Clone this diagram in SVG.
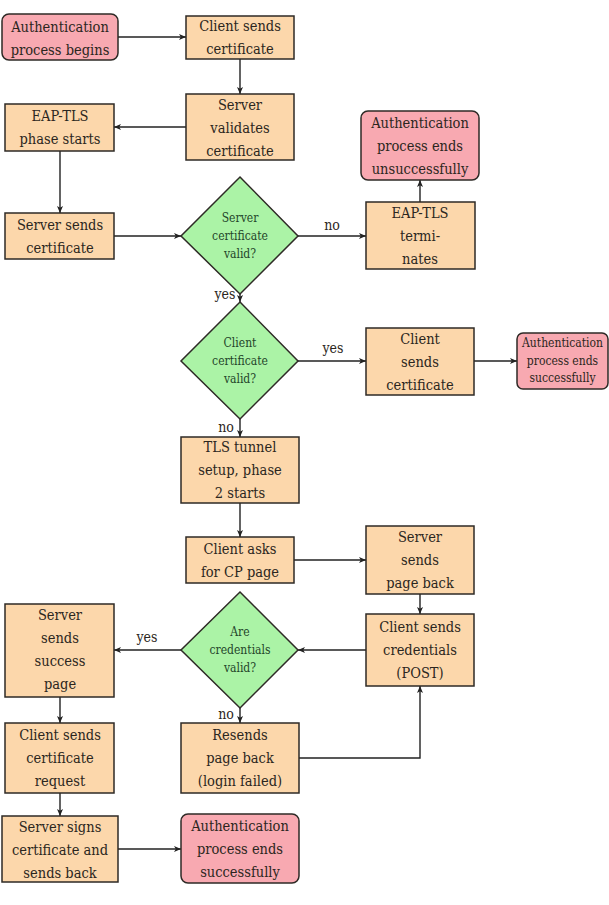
<svg xmlns="http://www.w3.org/2000/svg" width="609" height="905" viewBox="0 0 609 905">
  <style>
    .proc { fill: #fcd7ab; stroke: #2e2a26; stroke-width: 1.5; }
    .term { fill: #f8a9b1; stroke: #2e2a26; stroke-width: 1.5; }
    .dec  { fill: #abf3a6; stroke: #2e2a26; stroke-width: 1.5; }
    text  { font-family: 'DejaVu Serif Condensed', 'DejaVu Serif', serif; text-anchor: middle; }
    .t    { font-size: 14.5px; fill: #2b2620; }
    .ts   { font-size: 12px; fill: #2b2620; }
    .td   { font-size: 12px; fill: #24452a; }
    .lbl  { font-size: 14px; fill: #2b2620; }
    .edge { fill: none; stroke: #222; stroke-width: 1.4; marker-end: url(#arr); }
  </style>
  <defs>
    <marker id="arr" markerUnits="userSpaceOnUse" markerWidth="8" markerHeight="8" refX="7" refY="4" orient="auto">
      <path d="M0,1 L7,4 L0,7 L1.8,4 Z" fill="#222"/>
    </marker>
  </defs>
  <rect width="609" height="905" fill="#ffffff"/>

  <!-- connectors -->
  <g id="connectors">
    <path class="edge" d="M118,37 H186"/>
    <path class="edge" d="M240,59 V94"/>
    <path class="edge" d="M186,127 H114"/>
    <path class="edge" d="M60,151 V213"/>
    <path class="edge" d="M114,236 H181"/>
    <path class="edge" d="M298,236 H366"/>
    <path class="edge" d="M420,202 V180"/>
    <path class="edge" d="M240,294 V302"/>
    <path class="edge" d="M298,361 H366"/>
    <path class="edge" d="M474,361 H517"/>
    <path class="edge" d="M240,419 V437"/>
    <path class="edge" d="M240,503 V537"/>
    <path class="edge" d="M294,560 H366"/>
    <path class="edge" d="M420,594 V614"/>
    <path class="edge" d="M366,650 H298"/>
    <path class="edge" d="M181,650 H114"/>
    <path class="edge" d="M240,708 V723"/>
    <path class="edge" d="M299,758 H420 V686"/>
    <path class="edge" d="M60,697 V723"/>
    <path class="edge" d="M60,793 V816"/>
    <path class="edge" d="M118,849 H181"/>
    <text class="lbl" x="332" y="230">no</text>
    <text class="lbl" x="225" y="299">yes</text>
    <text class="lbl" x="333" y="353">yes</text>
    <text class="lbl" x="226" y="432">no</text>
    <text class="lbl" x="147" y="642">yes</text>
    <text class="lbl" x="226" y="719">no</text>
  </g>

  <g id="auth-begins">
    <rect class="term" x="2" y="14" width="116" height="46" rx="7"/>
    <text class="t" x="60" y="32">Authentication</text>
    <text class="t" x="60" y="55">process begins</text>
  </g>

  <g id="client-sends-cert">
    <rect class="proc" x="186" y="16" width="108" height="43"/>
    <text class="t" x="240" y="31">Client sends</text>
    <text class="t" x="240" y="54">certificate</text>
  </g>

  <g id="server-validates">
    <rect class="proc" x="186" y="94" width="108" height="66"/>
    <text class="t" x="240" y="110">Server</text>
    <text class="t" x="240" y="133">validates</text>
    <text class="t" x="240" y="156">certificate</text>
  </g>

  <g id="eap-tls-starts">
    <rect class="proc" x="5" y="104" width="109" height="47"/>
    <text class="t" x="60" y="121">EAP-TLS</text>
    <text class="t" x="60" y="144">phase starts</text>
  </g>

  <g id="server-sends-cert">
    <rect class="proc" x="5" y="213" width="109" height="46"/>
    <text class="t" x="60" y="230">Server sends</text>
    <text class="t" x="60" y="253">certificate</text>
  </g>

  <g id="server-cert-valid">
    <polygon class="dec" points="240,177 298,236 240,294 181,236"/>
    <text class="td" x="240" y="222">Server</text>
    <text class="td" x="240" y="240">certificate</text>
    <text class="td" x="240" y="258">valid?</text>
  </g>

  <g id="eap-tls-terminates">
    <rect class="proc" x="366" y="202" width="109" height="67"/>
    <text class="t" x="420" y="218">EAP-TLS</text>
    <text class="t" x="420" y="241">termi-</text>
    <text class="t" x="420" y="264">nates</text>
  </g>

  <g id="auth-ends-fail">
    <rect class="term" x="361" y="111" width="118" height="69" rx="7"/>
    <text class="t" x="420" y="128">Authentication</text>
    <text class="t" x="420" y="151">process ends</text>
    <text class="t" x="420" y="174">unsuccessfully</text>
  </g>

  <g id="client-cert-valid">
    <polygon class="dec" points="240,302 298,361 240,419 181,361"/>
    <text class="td" x="240" y="347">Client</text>
    <text class="td" x="240" y="365">certificate</text>
    <text class="td" x="240" y="383">valid?</text>
  </g>

  <g id="client-sends-cert-2">
    <rect class="proc" x="366" y="328" width="108" height="67"/>
    <text class="t" x="420" y="344">Client</text>
    <text class="t" x="420" y="367">sends</text>
    <text class="t" x="420" y="390">certificate</text>
  </g>

  <g id="auth-ends-ok-1">
    <rect class="term" x="517" y="333" width="91" height="56" rx="6"/>
    <text class="ts" x="562.5" y="347">Authentication</text>
    <text class="ts" x="562.5" y="364.5">process ends</text>
    <text class="ts" x="562.5" y="382">successfully</text>
  </g>

  <g id="tls-tunnel">
    <rect class="proc" x="181" y="437" width="118" height="66"/>
    <text class="t" x="240" y="452">TLS tunnel</text>
    <text class="t" x="240" y="475">setup, phase</text>
    <text class="t" x="240" y="498">2 starts</text>
  </g>

  <g id="client-asks-cp">
    <rect class="proc" x="186" y="537" width="108" height="46"/>
    <text class="t" x="240" y="554">Client asks</text>
    <text class="t" x="240" y="577">for CP page</text>
  </g>

  <g id="server-sends-page">
    <rect class="proc" x="366" y="526" width="108" height="68"/>
    <text class="t" x="420" y="542">Server</text>
    <text class="t" x="420" y="565">sends</text>
    <text class="t" x="420" y="588">page back</text>
  </g>

  <g id="client-sends-creds">
    <rect class="proc" x="366" y="614" width="108" height="72"/>
    <text class="t" x="420" y="632">Client sends</text>
    <text class="t" x="420" y="655">credentials</text>
    <text class="t" x="420" y="678">(POST)</text>
  </g>

  <g id="creds-valid">
    <polygon class="dec" points="240,592 298,650 240,708 181,650"/>
    <text class="td" x="240" y="636">Are</text>
    <text class="td" x="240" y="654">credentials</text>
    <text class="td" x="240" y="672">valid?</text>
  </g>

  <g id="server-success-page">
    <rect class="proc" x="5" y="604" width="109" height="93"/>
    <text class="t" x="60" y="620">Server</text>
    <text class="t" x="60" y="643">sends</text>
    <text class="t" x="60" y="666">success</text>
    <text class="t" x="60" y="689">page</text>
  </g>

  <g id="resends-page">
    <rect class="proc" x="181" y="723" width="118" height="70"/>
    <text class="t" x="240" y="740">Resends</text>
    <text class="t" x="240" y="763">page back</text>
    <text class="t" x="240" y="786">(login failed)</text>
  </g>

  <g id="client-cert-request">
    <rect class="proc" x="5" y="723" width="109" height="70"/>
    <text class="t" x="60" y="740">Client sends</text>
    <text class="t" x="60" y="763">certificate</text>
    <text class="t" x="60" y="786">request</text>
  </g>

  <g id="server-signs">
    <rect class="proc" x="2" y="816" width="116" height="66"/>
    <text class="t" x="60" y="832">Server signs</text>
    <text class="t" x="60" y="855">certificate and</text>
    <text class="t" x="60" y="878">sends back</text>
  </g>

  <g id="auth-ends-ok-2">
    <rect class="term" x="181" y="814" width="118" height="69" rx="7"/>
    <text class="t" x="240" y="831">Authentication</text>
    <text class="t" x="240" y="854">process ends</text>
    <text class="t" x="240" y="877">successfully</text>
  </g>
</svg>
